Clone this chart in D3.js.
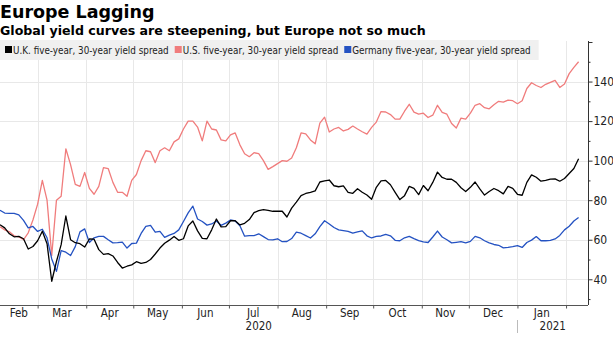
<!DOCTYPE html>
<html>
<head>
<meta charset="utf-8">
<script src="https://cdn.jsdelivr.net/npm/d3@7"></script>
<style>
	body { margin: 0; background: #fff; }
	svg { display: block; }
	.title { font-family: "DejaVu Sans", sans-serif; font-weight: bold; font-size: 17.5px; fill: #000; }
	.subtitle { font-family: "DejaVu Sans", sans-serif; font-weight: bold; font-size: 12.6px; fill: #000; }
	.legend text { font-family: "DejaVu Sans Condensed", "DejaVu Sans", sans-serif; font-size: 9.8px; fill: #222; }
	.axisText { font-family: "DejaVu Sans Condensed", "DejaVu Sans", sans-serif; font-size: 11.5px; fill: #222; }
</style>
</head>
<body>
<div id="graph"></div>
<script>
// one reading every 3 days, starting 6 Feb 2020
var startDate = new Date(2020, 1, 6);
var stepDays = 3;

var ukSpread = [67.6, 66, 63, 61.5, 61.7, 60.5, 55.3, 56.6, 59.5, 64.3,
	58, 39, 49, 57.5, 72, 60, 58.5, 58, 56.3, 60.4,
	60.3, 55, 52.6, 53, 51.8, 48.5, 45.7, 46.6, 47.3, 48.9,
	48, 48.5, 50, 52.8, 55.8, 58.2, 59.8, 61.7, 59.7, 60.5,
	67, 69.5, 64.5, 60.7, 60.5, 65, 70.5, 66.5, 66.6, 69.6,
	69.6, 67.5, 68.3, 70.2, 73.7, 74.7, 75.2, 74.9, 74.4, 74.4,
	74.4, 71.5, 76, 79, 82.3, 83.4, 84, 84.7, 89.2, 89.8,
	90.2, 87.3, 86.8, 87.2, 84, 83.5, 85.8, 84, 82.6, 80.5,
	86.5, 89.8, 90, 87.8, 84, 80.3, 82.3, 87, 86, 82.8,
	87.4, 84.8, 89, 94.2, 91.5, 90.6, 90.6, 89, 86.3, 84.4,
	86.5, 89.2, 85.7, 82.6, 84.4, 85.9, 84.8, 83.2, 87, 86,
	83, 82.5, 89, 92.8, 91.6, 89.6, 90, 90.7, 90.8, 89.6,
	91, 93.5, 96, 101];

var usSpread = [66.6, 65, 64, 62, 61.5, 60, 63.5, 70, 78, 90,
	80, 52, 80, 82, 106, 98, 88, 87, 94, 86,
	83, 87, 96.5, 96, 89, 84, 84, 82, 90, 93,
	100, 105, 104.5, 99, 105, 106.5, 105, 109.5, 111, 116,
	120, 120, 117, 110, 120, 116, 115.5, 110.5, 110, 113,
	114, 108, 103.5, 102, 104, 103.5, 100, 95.6, 97, 98.5,
	100, 99.7, 101.3, 106.5, 114, 113.5, 110.5, 108.5, 119, 122,
	114.5, 116, 116.8, 115, 115.8, 117.5, 116, 114.6, 113.4, 116.8,
	119.5, 124.8, 124.6, 123.3, 121, 121, 125, 128.5, 124.5, 123.5,
	124, 121.8, 123, 128, 124.4, 123.5, 118.8, 116.5, 121.5, 121,
	124, 128, 128.8, 126.8, 126.2, 128.3, 130, 129.6, 130.6, 130.3,
	128.8, 130.3, 136.5, 139.4, 138, 137, 138.6, 139.6, 140.6, 137,
	138.8, 144, 147.2, 150];

var deSpread = [74.9, 73.5, 73.3, 73.3, 72.6, 69.8, 66, 66.7, 64.2, 65.3,
	61, 50.3, 44, 54.5, 53.7, 52, 56.5, 64, 65.5, 58.6,
	61, 61.7, 61.7, 60, 58.4, 58.5, 58.8, 55.8, 58.1, 58.3,
	63.2, 66.8, 67.3, 63.8, 64.2, 61.2, 62.3, 63.2, 65, 69.2,
	73.6, 77, 70.5, 69.2, 67.4, 68, 69.5, 67.3, 68.4, 70,
	69.5, 67.1, 61.8, 62.1, 62.1, 63, 61.6, 60.1, 59.9, 60.5,
	59, 59.1, 60.6, 63.8, 63.3, 62.1, 60.9, 63, 66.6, 69.6,
	68, 66.2, 65, 64.6, 64.2, 63.3, 64, 64.5, 62, 60.9,
	61.7, 61.9, 62.7, 62, 59.7, 59.5, 61, 61.7, 60.6, 59.6,
	58.9, 58.6, 61.4, 64.4, 61.4, 60, 58.4, 58.7, 59, 58.4,
	59.2, 61.7, 61, 59.5, 58.4, 57.6, 57.2, 55.9, 56.1, 56.5,
	57, 56.1, 58.6, 59.8, 61.6, 59.5, 59.5, 59.7, 60.4, 62.2,
	65, 66.8, 69.5, 71.3];

var seriesNames = ["U.K. five-year, 30-year yield spread", "U.S. five-year, 30-year yield spread", "Germany five-year, 30-year yield spread"];
var seriesColors = ["#000000", "#f07c7c", "#2452c2"];
var yTicks = [40, 60, 80, 100, 120, 140];
var monthLabels = ["Feb", "Mar", "Apr", "May", "Jun", "Jul", "Aug", "Sep", "Oct", "Nov", "Dec", "Jan"];
var yearLabels = ["2020", "2021"];

var w = 613;
var h = 344;
var plotLeft = 0;
var plotRight = 588;
var plotTop = 41;
var plotBottom = 305;

var dates = ukSpread.map(function (d, i) {
	return d3.timeDay.offset(startDate, i * stepDays);
});

var xScale = d3.scaleTime()
	.domain([new Date(2020, 1, 6), new Date(2021, 1, 15)])
	.range([plotLeft, plotRight]);
var yScale = d3.scaleLinear()
	.domain([27, 160])
	.range([plotBottom, plotTop + 1]);

var svg = d3.select("#graph")
	.append("svg")
	.attr("width", w)
	.attr("height", h);

svg.append("text")
	.attr("class", "title")
	.attr("x", 0)
	.attr("y", 18)
	.text("Europe Lagging");

svg.append("text")
	.attr("class", "subtitle")
	.attr("x", 0)
	.attr("y", 35)
	.text("Global yield curves are steepening, but Europe not so much");

// gridlines
var monthStarts = d3.timeMonth.range(new Date(2020, 2, 1), new Date(2021, 1, 2));

svg.append("g")
	.selectAll("line")
	.data(monthStarts)
	.enter()
	.append("line")
	.attr("x1", function (d) { return Math.round(xScale(d)) + 0.5; })
	.attr("x2", function (d) { return Math.round(xScale(d)) + 0.5; })
	.attr("y1", plotTop)
	.attr("y2", plotBottom)
	.attr("stroke", "#e8e8e8")
	.attr("stroke-width", 1);

svg.append("g")
	.selectAll("line")
	.data(yTicks)
	.enter()
	.append("line")
	.attr("x1", plotLeft)
	.attr("x2", plotRight)
	.attr("y1", function (d) { return Math.round(yScale(d)) + 0.5; })
	.attr("y2", function (d) { return Math.round(yScale(d)) + 0.5; })
	.attr("stroke", "#e8e8e8")
	.attr("stroke-width", 1);

// legend band, items laid out one after the other
var legend = svg.append("g")
	.attr("class", "legend");

var legendBg = legend.append("rect")
	.attr("x", 0)
	.attr("y", 40)
	.attr("height", 20)
	.attr("fill", "#f0f0f0");

var legendX = 5;
seriesNames.forEach(function (name, i) {
	legend.append("rect")
		.attr("x", legendX)
		.attr("y", 46)
		.attr("width", 7)
		.attr("height", 7)
		.attr("fill", seriesColors[i]);
	var label = legend.append("text")
		.attr("x", legendX + 8)
		.attr("y", 53.5)
		.text(name);
	legendX += 8 + label.node().getComputedTextLength() + 6;
});
legendBg.attr("width", legendX + 2);

// lines
var line = d3.line()
	.x(function (d, i) { return xScale(dates[i]); })
	.y(function (d) { return yScale(d); });

[usSpread, deSpread, ukSpread].forEach(function (values) {
	var idx = values === ukSpread ? 0 : (values === usSpread ? 1 : 2);
	svg.append("path")
		.datum(values)
		.attr("fill", "none")
		.attr("stroke", seriesColors[idx])
		.attr("stroke-width", 1.3)
		.attr("stroke-linejoin", "round")
		.attr("d", line);
});

// right axis
var yAxis = d3.axisRight(yScale)
	.tickValues(d3.range(30, 161, 10))
	.tickSize(4)
	.tickFormat(function (d) { return d % 20 == 0 && d < 160 ? d : ""; });

var yAxisG = svg.append("g")
	.attr("transform", "translate(" + (plotRight + 0.5) + ",0)")
	.call(yAxis);

yAxisG.select(".domain")
	.attr("stroke", "#333")
	.attr("d", "M0," + plotTop + "V" + plotBottom);
yAxisG.selectAll(".tick line")
	.attr("stroke", "#333")
	.attr("x2", function (d) { return d % 20 == 0 ? 4 : 2; });
yAxisG.selectAll(".tick text")
	.attr("class", "axisText")
	.attr("x", 5)
	.style("font-size", "12px");

// bottom axis
var xAxis = d3.axisBottom(xScale)
	.tickValues(monthStarts)
	.tickSize(3)
	.tickFormat("");

var xAxisG = svg.append("g")
	.attr("transform", "translate(0," + (plotBottom + 0.5) + ")")
	.call(xAxis);

xAxisG.select(".domain")
	.attr("stroke", "#555")
	.attr("d", "M" + plotLeft + ",0H" + plotRight);
xAxisG.selectAll(".tick line")
	.attr("stroke", "#555");

// month labels centred on the visible part of each month
var monthBounds = [xScale.domain()[0]].concat(monthStarts);
svg.append("g")
	.selectAll("text")
	.data(monthLabels)
	.enter()
	.append("text")
	.attr("class", "axisText")
	.attr("text-anchor", "middle")
	.attr("x", function (d, i) {
		return (xScale(monthBounds[i]) + xScale(monthBounds[i + 1])) / 2;
	})
	.attr("y", 317)
	.text(function (d) { return d; });

var yearStart = new Date(2021, 0, 1);
var yearX = [
	(plotLeft + xScale(yearStart)) / 2,
	(xScale(yearStart) + plotRight) / 2
];
svg.append("g")
	.selectAll("text")
	.data(yearLabels)
	.enter()
	.append("text")
	.attr("class", "axisText")
	.attr("text-anchor", "middle")
	.attr("x", function (d, i) { return yearX[i]; })
	.attr("y", 330)
	.text(function (d) { return d; });

svg.append("line")
	.attr("x1", Math.round(xScale(yearStart)) + 0.5)
	.attr("x2", Math.round(xScale(yearStart)) + 0.5)
	.attr("y1", 320)
	.attr("y2", 333)
	.attr("stroke", "#bbb");
</script>
</body>
</html>
